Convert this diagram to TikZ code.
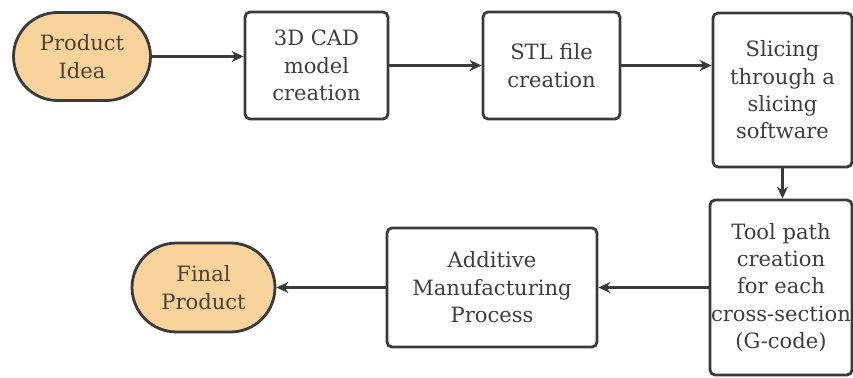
\documentclass[tikz,border=0pt]{standalone}
\usepackage{fontspec}
\setmainfont{DejaVu Serif}
\usetikzlibrary{arrows.meta}

\definecolor{pillfill}{HTML}{F9D39C}
\definecolor{edgegray}{HTML}{3A3A3A}
\definecolor{textgray}{HTML}{3E3E3E}
\definecolor{textbrown}{HTML}{52402C}

\begin{document}
\begin{tikzpicture}[x=0.02cm,y=-0.02cm,
  every node/.style={align=center,inner sep=0pt,
    font=\fontsize{12}{15.6}\selectfont},
  stepbox/.style={draw=edgegray,line width=1.6pt,rounded corners=0.1cm,
    fill=white,text=textgray},
  pill/.style={draw=edgegray,line width=1.6pt,fill=pillfill,text=textbrown},
  flow/.style={draw=edgegray,line width=1.3pt,
    -{Stealth[length=0.24cm,width=0.22cm]}}]
\useasboundingbox (0,0) rectangle (853,378);
% top row
\node [pill,minimum width=2.74cm,minimum height=1.76cm,rounded corners=0.88cm]
  (idea) at (82,56.5) {Product\\Idea};
\node [stepbox,minimum width=2.86cm,minimum height=2.14cm]
  (cad) at (316.5,65.5) {3D CAD\\model\\creation};
\node [stepbox,minimum width=2.74cm,minimum height=2.14cm]
  (stl) at (551.5,65.5) {STL file\\creation};
\node [stepbox,minimum width=2.78cm,minimum height=3.08cm]
  (slice) at (782.5,90) {Slicing\\through a\\slicing\\software};
% bottom row
\node [stepbox,minimum width=2.84cm,minimum height=3.5cm]
  (tool) at (781,287.5) {Tool path\\creation\\for each\\cross-section\\(G-code)};
\node [stepbox,minimum width=4.2cm,minimum height=2.38cm]
  (am) at (492,287.5) {Additive\\Manufacturing\\Process};
\node [pill,minimum width=2.86cm,minimum height=1.78cm,rounded corners=0.89cm]
  (final) at (203.5,287.5) {Final\\Product};
% connectors
\draw [flow] (idea.east) -- (idea.east -| cad.west);
\draw [flow] (cad) -- (stl);
\draw [flow] (stl.east) -- (stl.east -| slice.west);
\draw [flow] (slice) -- (slice |- tool.north);
\draw [flow] (tool) -- (am);
\draw [flow] (am) -- (final);
\end{tikzpicture}
\end{document}
